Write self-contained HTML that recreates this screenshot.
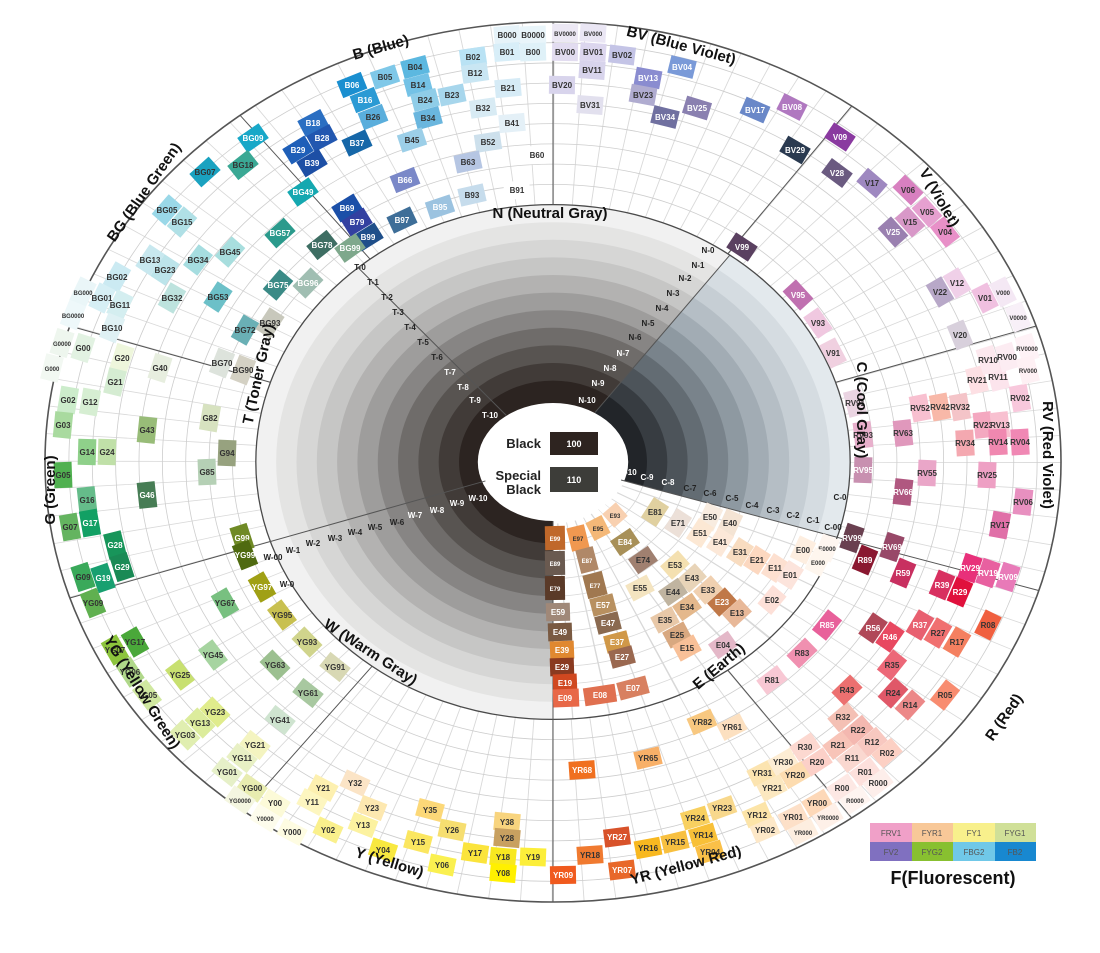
<!DOCTYPE html>
<html><head><meta charset="utf-8">
<style>
html,body{margin:0;padding:0;background:#fff;}
svg{display:block;}
.c text{font:bold 8px "Liberation Sans",sans-serif;text-anchor:middle;fill:#333;}
.c text.w{fill:#fff;}
.c text.s{font-size:6px;}
.g text{font:bold 8px "Liberation Sans",sans-serif;text-anchor:middle;fill:#222;}
.g text.w{fill:#fff;}
.h{font:bold 15px "Liberation Sans",sans-serif;text-anchor:middle;fill:#111;}
.lg text{font:8px "Liberation Sans",sans-serif;text-anchor:middle;fill:#555;}
</style></head><body>
<svg width="1100" height="953" viewBox="0 0 1100 953" xmlns="http://www.w3.org/2000/svg">
<rect width="1100" height="953" fill="#fff"/>
<g transform="translate(553,462) scale(508,440)">
 <defs>
  <clipPath id="cC"><path d="M0 0 L0.956 0.292 A1 1 0 0 0 0.595 -0.804 Z"/></clipPath>
  <clipPath id="cE"><path d="M0 0 L0 1 A1 1 0 0 0 0.956 0.292 Z"/></clipPath>
 </defs>
 <circle r="1" fill="#fff"/>
 <circle r="0.7925" fill="none" stroke="#d9d9d9" stroke-width="0.415" stroke-dasharray="0.0018 0.048"/>
 <g fill="none" stroke="#cdcdcd" stroke-width="0.8" vector-effect="non-scaling-stroke">
  <circle r="0.631" vector-effect="non-scaling-stroke"/><circle r="0.677" vector-effect="non-scaling-stroke"/><circle r="0.723" vector-effect="non-scaling-stroke"/><circle r="0.769" vector-effect="non-scaling-stroke"/><circle r="0.815" vector-effect="non-scaling-stroke"/><circle r="0.861" vector-effect="non-scaling-stroke"/><circle r="0.907" vector-effect="non-scaling-stroke"/><circle r="0.953" vector-effect="non-scaling-stroke"/>
 </g>
 <circle r="0.585" fill="#f1f1f1"/>
 <circle r="0.545" fill="#e4e4e3"/>
 <circle r="0.505" fill="#d6d6d5"/>
 <circle r="0.465" fill="#c6c6c5"/>
 <circle r="0.425" fill="#b3b2b1"/>
 <circle r="0.385" fill="#9e9d9c"/>
 <circle r="0.345" fill="#878584"/>
 <circle r="0.305" fill="#6f6c6a"/>
 <circle r="0.265" fill="#585451"/>
 <circle r="0.225" fill="#413b38"/>
 <circle r="0.185" fill="#2c2421"/>
 <g clip-path="url(#cC)">
  <circle r="0.585" fill="#e3e9ed"/>
  <circle r="0.545" fill="#d5dce1"/>
  <circle r="0.505" fill="#c6ced4"/>
  <circle r="0.465" fill="#b5bec5"/>
  <circle r="0.425" fill="#a2acb4"/>
  <circle r="0.385" fill="#8e99a1"/>
  <circle r="0.345" fill="#79838b"/>
  <circle r="0.305" fill="#636c73"/>
  <circle r="0.265" fill="#4d545a"/>
  <circle r="0.225" fill="#373c41"/>
  <circle r="0.185" fill="#222529"/>
 </g>
 <g clip-path="url(#cE)">
  <circle r="0.585" fill="#fff"/>
  <circle r="0.3625" fill="none" stroke="#d8d8d8" stroke-width="0.445" stroke-dasharray="0.0025 0.0428"/>
  <g fill="none" stroke="#d8d8d8" stroke-width="0.8">
   <circle r="0.185" vector-effect="non-scaling-stroke"/><circle r="0.225" vector-effect="non-scaling-stroke"/><circle r="0.265" vector-effect="non-scaling-stroke"/><circle r="0.305" vector-effect="non-scaling-stroke"/><circle r="0.345" vector-effect="non-scaling-stroke"/><circle r="0.385" vector-effect="non-scaling-stroke"/><circle r="0.425" vector-effect="non-scaling-stroke"/><circle r="0.465" vector-effect="non-scaling-stroke"/><circle r="0.505" vector-effect="non-scaling-stroke"/><circle r="0.545" vector-effect="non-scaling-stroke"/>
  </g>
 </g>
 <ellipse rx="0.148" ry="0.134" fill="#fff"/>
 <circle r="0.585" fill="none" stroke="#4a4a4a" stroke-width="1.3" vector-effect="non-scaling-stroke"/>
 <circle r="1" fill="none" stroke="#555" stroke-width="1.6" vector-effect="non-scaling-stroke"/>
 <g stroke="#555" stroke-width="1" vector-effect="non-scaling-stroke">
  <line x1="0.344" y1="-0.473" x2="0.588" y2="-0.809" vector-effect="non-scaling-stroke"/>
  <line x1="0" y1="-0.585" x2="0" y2="-1" vector-effect="non-scaling-stroke"/>
  <line x1="0.556" y1="-0.181" x2="0.951" y2="-0.309" vector-effect="non-scaling-stroke"/>
  <line x1="0.559" y1="0.171" x2="0.956" y2="0.292" vector-effect="non-scaling-stroke"/>
  <line x1="0.344" y1="0.473" x2="0.588" y2="0.809" vector-effect="non-scaling-stroke"/>
  <line x1="0" y1="0.134" x2="0" y2="1" vector-effect="non-scaling-stroke"/>
  <line x1="-0.356" y1="0.464" x2="-0.609" y2="0.793" vector-effect="non-scaling-stroke"/>
  <line x1="-0.133" y1="0.043" x2="-0.951" y2="0.309" vector-effect="non-scaling-stroke"/>
  <line x1="-0.556" y1="-0.181" x2="-0.951" y2="-0.309" vector-effect="non-scaling-stroke"/>
  <line x1="-0.360" y1="-0.461" x2="-0.616" y2="-0.788" vector-effect="non-scaling-stroke"/>
  <line x1="0.083" y1="-0.113" x2="0.348" y2="-0.470" vector-effect="non-scaling-stroke"/>
  <line x1="-0.092" y1="-0.106" x2="-0.384" y2="-0.442" vector-effect="non-scaling-stroke"/>
  <line x1="0.134" y1="0.041" x2="0.559" y2="0.171" vector-effect="non-scaling-stroke"/>
 </g>
</g>

<!-- center -->
<text x="541" y="448" style="font:bold 13px 'Liberation Sans',sans-serif;text-anchor:end;fill:#222">Black</text>
<rect x="550" y="432" width="48" height="23" fill="#2e2420"/>
<text x="574" y="447" style="font:bold 9px 'Liberation Sans',sans-serif;text-anchor:middle;fill:#fff">100</text>
<text x="541" y="480" style="font:bold 13px 'Liberation Sans',sans-serif;text-anchor:end;fill:#222">Special</text>
<text x="541" y="494" style="font:bold 13px 'Liberation Sans',sans-serif;text-anchor:end;fill:#222">Black</text>
<rect x="550" y="467" width="48" height="25" fill="#3d3d39"/>
<text x="574" y="483" style="font:bold 9px 'Liberation Sans',sans-serif;text-anchor:middle;fill:#fff">110</text>

<!-- gray labels -->
<g class="g">
<text x="708" y="253">N-0</text><text x="698" y="268">N-1</text><text x="685" y="281">N-2</text><text x="673" y="296">N-3</text><text x="662" y="311">N-4</text><text x="648" y="326">N-5</text><text x="635" y="340">N-6</text><text x="623" y="356" class="w">N-7</text><text x="610" y="371" class="w">N-8</text><text x="598" y="386" class="w">N-9</text><text x="587" y="403" class="w">N-10</text>
<text x="360" y="270">T-0</text><text x="373" y="285">T-1</text><text x="387" y="300">T-2</text><text x="398" y="315">T-3</text><text x="410" y="330">T-4</text><text x="423" y="345">T-5</text><text x="437" y="360">T-6</text><text x="450" y="375" class="w">T-7</text><text x="463" y="390" class="w">T-8</text><text x="475" y="403" class="w">T-9</text><text x="490" y="418" class="w">T-10</text>
<text x="478" y="501" class="w">W-10</text><text x="457" y="506" class="w">W-9</text><text x="437" y="513" class="w">W-8</text><text x="415" y="518" class="w">W-7</text><text x="397" y="525">W-6</text><text x="375" y="530">W-5</text><text x="355" y="535">W-4</text><text x="335" y="541">W-3</text><text x="313" y="546">W-2</text><text x="293" y="553">W-1</text><text x="273" y="560">W-00</text><text x="287" y="587">W-0</text>
<text x="628" y="475" class="w">C-10</text><text x="647" y="480" class="w">C-9</text><text x="668" y="485" class="w">C-8</text><text x="690" y="491">C-7</text><text x="710" y="496">C-6</text><text x="732" y="501">C-5</text><text x="752" y="508">C-4</text><text x="773" y="513">C-3</text><text x="793" y="518">C-2</text><text x="813" y="523">C-1</text><text x="840" y="500">C-0</text><text x="833" y="530">C-00</text>
</g>

<g class="c" id="cells">
<!-- B -->
<g transform="translate(507 35)"><rect x="-13" y="-9" width="26" height="18" fill="#e6f3f9"/><text y="3">B000</text></g>
<g transform="translate(533 35)"><rect x="-13" y="-9" width="26" height="18" fill="#e9f5fa"/><text y="3">B0000</text></g>
<g transform="translate(507 52)"><rect x="-13" y="-9" width="26" height="18" fill="#d8eef8"/><text y="3">B01</text></g>
<g transform="translate(533 52)"><rect x="-13" y="-9" width="26" height="18" fill="#dff1f8"/><text y="3">B00</text></g>
<g transform="translate(473 57)"><rect x="-13" y="-9" width="26" height="18" fill="#b9e2f4"/><text y="3">B02</text></g>
<g transform="translate(475 73)"><rect x="-13" y="-9" width="26" height="18" fill="#c9e6f3"/><text y="3">B12</text></g>
<g transform="translate(415 67)"><rect x="-13" y="-9" width="26" height="18" fill="#5cb8e0"/><text y="3">B04</text></g>
<g transform="translate(385 77)"><rect x="-13" y="-9" width="26" height="18" fill="#7fc8e8"/><text y="3">B05</text></g>
<g transform="translate(352 85)"><rect x="-13" y="-9" width="26" height="18" fill="#1a8fd0"/><text y="3" class="w">B06</text></g>
<g transform="translate(418 85)"><rect x="-13" y="-9" width="26" height="18" fill="#74c2e6"/><text y="3">B14</text></g>
<g transform="translate(365 100)"><rect x="-13" y="-9" width="26" height="18" fill="#2b9ad4"/><text y="3" class="w">B16</text></g>
<g transform="translate(373 117)"><rect x="-13" y="-9" width="26" height="18" fill="#5aaedc"/><text y="3">B26</text></g>
<g transform="translate(425 100)"><rect x="-13" y="-9" width="26" height="18" fill="#8fcde8"/><text y="3">B24</text></g>
<g transform="translate(428 118)"><rect x="-13" y="-9" width="26" height="18" fill="#6ab6de"/><text y="3">B34</text></g>
<g transform="translate(452 95)"><rect x="-13" y="-9" width="26" height="18" fill="#a7d6ec"/><text y="3">B23</text></g>
<g transform="translate(508 88)"><rect x="-13" y="-9" width="26" height="18" fill="#d6ebf6"/><text y="3">B21</text></g>
<g transform="translate(483 108)"><rect x="-13" y="-9" width="26" height="18" fill="#d8ebf4"/><text y="3">B32</text></g>
<g transform="translate(512 123)"><rect x="-13" y="-9" width="26" height="18" fill="#e4f0f7"/><text y="3">B41</text></g>
<g transform="translate(313 123)"><rect x="-13" y="-9" width="26" height="18" fill="#2b6fc2"/><text y="3" class="w">B18</text></g>
<g transform="translate(322 138)"><rect x="-13" y="-9" width="26" height="18" fill="#2257b0"/><text y="3" class="w">B28</text></g>
<g transform="translate(298 150)"><rect x="-13" y="-9" width="26" height="18" fill="#1f5fb8"/><text y="3" class="w">B29</text></g>
<g transform="translate(312 163)"><rect x="-13" y="-9" width="26" height="18" fill="#1d4fa5"/><text y="3" class="w">B39</text></g>
<g transform="translate(357 143)"><rect x="-13" y="-9" width="26" height="18" fill="#1667a8"/><text y="3" class="w">B37</text></g>
<g transform="translate(412 140)"><rect x="-13" y="-9" width="26" height="18" fill="#9ccfe8"/><text y="3">B45</text></g>
<g transform="translate(488 142)"><rect x="-13" y="-9" width="26" height="18" fill="#cde0ec"/><text y="3">B52</text></g>
<g transform="translate(468 162)"><rect x="-13" y="-9" width="26" height="18" fill="#b6c6e3"/><text y="3">B63</text></g>
<g transform="translate(537 155)"><rect x="-13" y="-9" width="26" height="18" fill="#fff"/><text y="3">B60</text></g>
<g transform="translate(405 180)"><rect x="-13" y="-9" width="26" height="18" fill="#7a88c8"/><text y="3" class="w">B66</text></g>
<g transform="translate(472 195)"><rect x="-13" y="-9" width="26" height="18" fill="#c6dcec"/><text y="3">B93</text></g>
<g transform="translate(517 190)"><rect x="-13" y="-9" width="26" height="18" fill="#fff"/><text y="3">B91</text></g>
<g transform="translate(440 207)"><rect x="-13" y="-9" width="26" height="18" fill="#9cc3e0"/><text y="3" class="w">B95</text></g>
<g transform="translate(402 220)"><rect x="-13" y="-9" width="26" height="18" fill="#3e6e98"/><text y="3" class="w">B97</text></g>
<g transform="translate(347 208)"><rect x="-13" y="-9" width="26" height="18" fill="#1b4fa8"/><text y="3" class="w">B69</text></g>
<g transform="translate(357 222)"><rect x="-13" y="-9" width="26" height="18" fill="#3340a0"/><text y="3" class="w">B79</text></g>
<g transform="translate(368 237)"><rect x="-13" y="-9" width="26" height="18" fill="#1f4f8a"/><text y="3" class="w">B99</text></g>
<!-- BG -->
<g transform="translate(253 138)"><rect x="-13" y="-9" width="26" height="18" fill="#18a8c8"/><text y="3" class="w">BG09</text></g>
<g transform="translate(205 172)"><rect x="-13" y="-9" width="26" height="18" fill="#1aa2c0"/><text y="3">BG07</text></g>
<g transform="translate(243 165)"><rect x="-13" y="-9" width="26" height="18" fill="#3aa894"/><text y="3">BG18</text></g>
<g transform="translate(303 192)"><rect x="-13" y="-9" width="26" height="18" fill="#15a8b0"/><text y="3" class="w">BG49</text></g>
<g transform="translate(167 210)"><rect x="-13" y="-9" width="26" height="18" fill="#9ad8e8"/><text y="3">BG05</text></g>
<g transform="translate(182 222)"><rect x="-13" y="-9" width="26" height="18" fill="#b0e0e6"/><text y="3">BG15</text></g>
<g transform="translate(280 233)"><rect x="-13" y="-9" width="26" height="18" fill="#2b9a8c"/><text y="3" class="w">BG57</text></g>
<g transform="translate(322 245)"><rect x="-13" y="-9" width="26" height="18" fill="#3e6e63"/><text y="3" class="w">BG78</text></g>
<g transform="translate(350 248)"><rect x="-13" y="-9" width="26" height="18" fill="#7ea88c"/><text y="3" class="w">BG99</text></g>
<g transform="translate(150 260)"><rect x="-13" y="-9" width="26" height="18" fill="#c8e8ef"/><text y="3">BG13</text></g>
<g transform="translate(165 270)"><rect x="-13" y="-9" width="26" height="18" fill="#bce4ea"/><text y="3">BG23</text></g>
<g transform="translate(198 260)"><rect x="-13" y="-9" width="26" height="18" fill="#a6dde0"/><text y="3">BG34</text></g>
<g transform="translate(230 252)"><rect x="-13" y="-9" width="26" height="18" fill="#a8dede"/><text y="3">BG45</text></g>
<g transform="translate(117 277)"><rect x="-13" y="-9" width="26" height="18" fill="#cbeaf2"/><text y="3">BG02</text></g>
<g transform="translate(278 285)"><rect x="-13" y="-9" width="26" height="18" fill="#3a8a86"/><text y="3" class="w">BG75</text></g>
<g transform="translate(308 283)"><rect x="-13" y="-9" width="26" height="18" fill="#a0beb2"/><text y="3" class="w">BG96</text></g>
<g transform="translate(83 292)"><rect x="-13" y="-9" width="26" height="18" fill="#eaf6f8"/><text y="3" class="s">BG000</text></g>
<g transform="translate(102 298)"><rect x="-13" y="-9" width="26" height="18" fill="#d6eff5"/><text y="3">BG01</text></g>
<g transform="translate(120 305)"><rect x="-13" y="-9" width="26" height="18" fill="#d4eef0"/><text y="3">BG11</text></g>
<g transform="translate(172 298)"><rect x="-13" y="-9" width="26" height="18" fill="#bde3de"/><text y="3">BG32</text></g>
<g transform="translate(218 297)"><rect x="-13" y="-9" width="26" height="18" fill="#6cc0c8"/><text y="3">BG53</text></g>
<g transform="translate(73 315)"><rect x="-13" y="-9" width="26" height="18" fill="#eef8fa"/><text y="3" class="s">BG0000</text></g>
<g transform="translate(112 328)"><rect x="-13" y="-9" width="26" height="18" fill="#dff1f4"/><text y="3">BG10</text></g>
<g transform="translate(245 330)"><rect x="-13" y="-9" width="26" height="18" fill="#6ab0b5"/><text y="3">BG72</text></g>
<g transform="translate(270 323)"><rect x="-13" y="-9" width="26" height="18" fill="#c8c8bc"/><text y="3">BG93</text></g>
<!-- G -->
<g transform="translate(62 343)"><rect x="-13" y="-9" width="26" height="18" fill="#eef6ee"/><text y="3" class="s">G0000</text></g>
<g transform="translate(83 348)"><rect x="-13" y="-9" width="26" height="18" fill="#e2f2e2"/><text y="3">G00</text></g>
<g transform="translate(122 358)"><rect x="-13" y="-9" width="26" height="18" fill="#eef6dc"/><text y="3">G20</text></g>
<g transform="translate(160 368)"><rect x="-13" y="-9" width="26" height="18" fill="#e7eedf"/><text y="3">G40</text></g>
<g transform="translate(222 363)"><rect x="-13" y="-9" width="26" height="18" fill="#dde3dc"/><text y="3">BG70</text></g>
<g transform="translate(243 370)"><rect x="-13" y="-9" width="26" height="18" fill="#d4d1c4"/><text y="3">BG90</text></g>
<g transform="translate(52 368)"><rect x="-13" y="-9" width="26" height="18" fill="#f2f8f2"/><text y="3" class="s">G000</text></g>
<g transform="translate(115 382)"><rect x="-13" y="-9" width="26" height="18" fill="#d5ecd2"/><text y="3">G21</text></g>
<g transform="translate(68 400)"><rect x="-13" y="-9" width="26" height="18" fill="#cceccb"/><text y="3">G02</text></g>
<g transform="translate(90 402)"><rect x="-13" y="-9" width="26" height="18" fill="#d6eed2"/><text y="3">G12</text></g>
<g transform="translate(210 418)"><rect x="-13" y="-9" width="26" height="18" fill="#d7e2c0"/><text y="3">G82</text></g>
<g transform="translate(63 425)"><rect x="-13" y="-9" width="26" height="18" fill="#a9da9f"/><text y="3">G03</text></g>
<g transform="translate(147 430)"><rect x="-13" y="-9" width="26" height="18" fill="#98bc78"/><text y="3">G43</text></g>
<g transform="translate(87 452)"><rect x="-13" y="-9" width="26" height="18" fill="#8fd08a"/><text y="3">G14</text></g>
<g transform="translate(107 452)"><rect x="-13" y="-9" width="26" height="18" fill="#c0e0a8"/><text y="3">G24</text></g>
<g transform="translate(227 453)"><rect x="-13" y="-9" width="26" height="18" fill="#97a27f"/><text y="3">G94</text></g>
<g transform="translate(207 472)"><rect x="-13" y="-9" width="26" height="18" fill="#b5d0b5"/><text y="3">G85</text></g>
<g transform="translate(63 475)"><rect x="-13" y="-9" width="26" height="18" fill="#50b050"/><text y="3">G05</text></g>
<g transform="translate(87 500)"><rect x="-13" y="-9" width="26" height="18" fill="#65bc8a"/><text y="3">G16</text></g>
<g transform="translate(147 495)"><rect x="-13" y="-9" width="26" height="18" fill="#477d55"/><text y="3" class="w">G46</text></g>
<g transform="translate(70 527)"><rect x="-13" y="-9" width="26" height="18" fill="#64b460"/><text y="3">G07</text></g>
<g transform="translate(90 523)"><rect x="-13" y="-9" width="26" height="18" fill="#12a064"/><text y="3" class="w">G17</text></g>
<g transform="translate(115 545)"><rect x="-13" y="-9" width="26" height="18" fill="#18955a"/><text y="3" class="w">G28</text></g>
<g transform="translate(242 538)"><rect x="-13" y="-9" width="26" height="18" fill="#6f8a25"/><text y="3" class="w">G99</text></g>
<g transform="translate(83 577)"><rect x="-13" y="-9" width="26" height="18" fill="#3aa95a"/><text y="3">G09</text></g>
<g transform="translate(103 578)"><rect x="-13" y="-9" width="26" height="18" fill="#18a070"/><text y="3" class="w">G19</text></g>
<g transform="translate(122 567)"><rect x="-13" y="-9" width="26" height="18" fill="#1a8a55"/><text y="3" class="w">G29</text></g>
<!-- YG -->
<g transform="translate(245 555)"><rect x="-13" y="-9" width="26" height="18" fill="#4f6a10"/><text y="3" class="w">YG99</text></g>
<g transform="translate(262 587)"><rect x="-13" y="-9" width="26" height="18" fill="#a0a015"/><text y="3" class="w">YG97</text></g>
<g transform="translate(93 603)"><rect x="-13" y="-9" width="26" height="18" fill="#60b050"/><text y="3">YG09</text></g>
<g transform="translate(225 603)"><rect x="-13" y="-9" width="26" height="18" fill="#78c080"/><text y="3">YG67</text></g>
<g transform="translate(282 615)"><rect x="-13" y="-9" width="26" height="18" fill="#c8c050"/><text y="3">YG95</text></g>
<g transform="translate(135 642)"><rect x="-13" y="-9" width="26" height="18" fill="#4aa83a"/><text y="3">YG17</text></g>
<g transform="translate(115 650)"><rect x="-13" y="-9" width="26" height="18" fill="#8cc43c"/><text y="3">YG07</text></g>
<g transform="translate(213 655)"><rect x="-13" y="-9" width="26" height="18" fill="#a6d4a0"/><text y="3">YG45</text></g>
<g transform="translate(307 642)"><rect x="-13" y="-9" width="26" height="18" fill="#d0d48c"/><text y="3">YG93</text></g>
<g transform="translate(130 672)"><rect x="-13" y="-9" width="26" height="18" fill="#b0d88a"/><text y="3">YG06</text></g>
<g transform="translate(180 675)"><rect x="-13" y="-9" width="26" height="18" fill="#c8e070"/><text y="3">YG25</text></g>
<g transform="translate(275 665)"><rect x="-13" y="-9" width="26" height="18" fill="#9cc090"/><text y="3">YG63</text></g>
<g transform="translate(335 667)"><rect x="-13" y="-9" width="26" height="18" fill="#d8d8b4"/><text y="3">YG91</text></g>
<g transform="translate(147 695)"><rect x="-13" y="-9" width="26" height="18" fill="#d0e8a0"/><text y="3">YG05</text></g>
<g transform="translate(308 693)"><rect x="-13" y="-9" width="26" height="18" fill="#a8c8a0"/><text y="3">YG61</text></g>
<g transform="translate(215 712)"><rect x="-13" y="-9" width="26" height="18" fill="#e0ec8c"/><text y="3">YG23</text></g>
<g transform="translate(200 723)"><rect x="-13" y="-9" width="26" height="18" fill="#dcec9c"/><text y="3">YG13</text></g>
<g transform="translate(185 735)"><rect x="-13" y="-9" width="26" height="18" fill="#e0eeb0"/><text y="3">YG03</text></g>
<g transform="translate(280 720)"><rect x="-13" y="-9" width="26" height="18" fill="#cfe4d0"/><text y="3">YG41</text></g>
<g transform="translate(255 745)"><rect x="-13" y="-9" width="26" height="18" fill="#f4f4c0"/><text y="3">YG21</text></g>
<g transform="translate(242 758)"><rect x="-13" y="-9" width="26" height="18" fill="#e8f0c4"/><text y="3">YG11</text></g>
<g transform="translate(227 772)"><rect x="-13" y="-9" width="26" height="18" fill="#e6f0c8"/><text y="3">YG01</text></g>
<g transform="translate(252 788)"><rect x="-13" y="-9" width="26" height="18" fill="#e8ecb0"/><text y="3">YG00</text></g>
<g transform="translate(240 800)"><rect x="-13" y="-9" width="26" height="18" fill="#f4f6e0"/><text y="3" class="s">YG0000</text></g>
<!-- Y -->
<g transform="translate(275 803)"><rect x="-13" y="-9" width="26" height="18" fill="#fcfad8"/><text y="3">Y00</text></g>
<g transform="translate(265 818)"><rect x="-13" y="-9" width="26" height="18" fill="#fdfcec"/><text y="3" class="s">Y0000</text></g>
<g transform="translate(292 832)"><rect x="-13" y="-9" width="26" height="18" fill="#fefce2"/><text y="3">Y000</text></g>
<g transform="translate(323 788)"><rect x="-13" y="-9" width="26" height="18" fill="#fdf0b0"/><text y="3">Y21</text></g>
<g transform="translate(355 783)"><rect x="-13" y="-9" width="26" height="18" fill="#fbe4c6"/><text y="3">Y32</text></g>
<g transform="translate(312 802)"><rect x="-13" y="-9" width="26" height="18" fill="#fdf6c0"/><text y="3">Y11</text></g>
<g transform="translate(372 808)"><rect x="-13" y="-9" width="26" height="18" fill="#fde8b0"/><text y="3">Y23</text></g>
<g transform="translate(328 830)"><rect x="-13" y="-9" width="26" height="18" fill="#faf08c"/><text y="3">Y02</text></g>
<g transform="translate(363 825)"><rect x="-13" y="-9" width="26" height="18" fill="#fcf2a0"/><text y="3">Y13</text></g>
<g transform="translate(430 810)"><rect x="-13" y="-9" width="26" height="18" fill="#fcd878"/><text y="3">Y35</text></g>
<g transform="translate(383 850)"><rect x="-13" y="-9" width="26" height="18" fill="#f8e840"/><text y="3">Y04</text></g>
<g transform="translate(452 830)"><rect x="-13" y="-9" width="26" height="18" fill="#f6de70"/><text y="3">Y26</text></g>
<g transform="translate(418 842)"><rect x="-13" y="-9" width="26" height="18" fill="#fbe660"/><text y="3">Y15</text></g>
<g transform="translate(507 822)"><rect x="-13" y="-9" width="26" height="18" fill="#f8d47e"/><text y="3">Y38</text></g>
<g transform="translate(507 838)"><rect x="-13" y="-9" width="26" height="18" fill="#c8a060"/><text y="3">Y28</text></g>
<g transform="translate(442 865)"><rect x="-13" y="-9" width="26" height="18" fill="#faf050"/><text y="3">Y06</text></g>
<g transform="translate(475 853)"><rect x="-13" y="-9" width="26" height="18" fill="#fbe43c"/><text y="3">Y17</text></g>
<g transform="translate(503 857)"><rect x="-13" y="-9" width="26" height="18" fill="#f8e820"/><text y="3">Y18</text></g>
<g transform="translate(533 857)"><rect x="-13" y="-9" width="26" height="18" fill="#fcee3a"/><text y="3">Y19</text></g>
<g transform="translate(503 873)"><rect x="-13" y="-9" width="26" height="18" fill="#fff000"/><text y="3">Y08</text></g>
<!-- YR -->
<g transform="translate(563 875)"><rect x="-13" y="-9" width="26" height="18" fill="#f05a1e"/><text y="3" class="w">YR09</text></g>
<g transform="translate(590 855)"><rect x="-13" y="-9" width="26" height="18" fill="#f07a30"/><text y="3">YR18</text></g>
<g transform="translate(622 870)"><rect x="-13" y="-9" width="26" height="18" fill="#e8682a"/><text y="3" class="w">YR07</text></g>
<g transform="translate(617 837)"><rect x="-13" y="-9" width="26" height="18" fill="#d8522a"/><text y="3" class="w">YR27</text></g>
<g transform="translate(648 848)"><rect x="-13" y="-9" width="26" height="18" fill="#f8b820"/><text y="3">YR16</text></g>
<g transform="translate(675 842)"><rect x="-13" y="-9" width="26" height="18" fill="#f8c040"/><text y="3">YR15</text></g>
<g transform="translate(695 818)"><rect x="-13" y="-9" width="26" height="18" fill="#f8d060"/><text y="3">YR24</text></g>
<g transform="translate(703 835)"><rect x="-13" y="-9" width="26" height="18" fill="#f8c038"/><text y="3">YR14</text></g>
<g transform="translate(710 852)"><rect x="-13" y="-9" width="26" height="18" fill="#fac048"/><text y="3">YR04</text></g>
<g transform="translate(722 808)"><rect x="-13" y="-9" width="26" height="18" fill="#f8d88c"/><text y="3">YR23</text></g>
<g transform="translate(757 815)"><rect x="-13" y="-9" width="26" height="18" fill="#fce4a8"/><text y="3">YR12</text></g>
<g transform="translate(765 830)"><rect x="-13" y="-9" width="26" height="18" fill="#fde8c8"/><text y="3">YR02</text></g>
<g transform="translate(793 817)"><rect x="-13" y="-9" width="26" height="18" fill="#fde0c8"/><text y="3">YR01</text></g>
<g transform="translate(803 832)"><rect x="-13" y="-9" width="26" height="18" fill="#fdeee0"/><text y="3" class="s">YR000</text></g>
<g transform="translate(817 803)"><rect x="-13" y="-9" width="26" height="18" fill="#fdd8b8"/><text y="3">YR00</text></g>
<g transform="translate(828 817)"><rect x="-13" y="-9" width="26" height="18" fill="#fef0e8"/><text y="3" class="s">YR0000</text></g>
<g transform="translate(762 773)"><rect x="-13" y="-9" width="26" height="18" fill="#fce4b0"/><text y="3">YR31</text></g>
<g transform="translate(783 762)"><rect x="-13" y="-9" width="26" height="18" fill="#fdedd4"/><text y="3">YR30</text></g>
<g transform="translate(795 775)"><rect x="-13" y="-9" width="26" height="18" fill="#fddcb0"/><text y="3">YR20</text></g>
<g transform="translate(772 788)"><rect x="-13" y="-9" width="26" height="18" fill="#fce8c0"/><text y="3">YR21</text></g>
<g transform="translate(582 770)"><rect x="-13" y="-9" width="26" height="18" fill="#f07020"/><text y="3" class="w">YR68</text></g>
<g transform="translate(648 758)"><rect x="-13" y="-9" width="26" height="18" fill="#f8b068"/><text y="3">YR65</text></g>
<g transform="translate(702 722)"><rect x="-13" y="-9" width="26" height="18" fill="#f8c880"/><text y="3">YR82</text></g>
<g transform="translate(732 727)"><rect x="-13" y="-9" width="26" height="18" fill="#fce0c0"/><text y="3">YR61</text></g>
<!-- R -->
<g transform="translate(805 747)"><rect x="-13" y="-9" width="26" height="18" fill="#fcd8d0"/><text y="3">R30</text></g>
<g transform="translate(817 762)"><rect x="-13" y="-9" width="26" height="18" fill="#fcd0c8"/><text y="3">R20</text></g>
<g transform="translate(838 745)"><rect x="-13" y="-9" width="26" height="18" fill="#f8c4b8"/><text y="3">R21</text></g>
<g transform="translate(843 717)"><rect x="-13" y="-9" width="26" height="18" fill="#f4c0b4"/><text y="3">R32</text></g>
<g transform="translate(858 730)"><rect x="-13" y="-9" width="26" height="18" fill="#f4b8b0"/><text y="3">R22</text></g>
<g transform="translate(872 742)"><rect x="-13" y="-9" width="26" height="18" fill="#f8c8c0"/><text y="3">R12</text></g>
<g transform="translate(887 753)"><rect x="-13" y="-9" width="26" height="18" fill="#fcd0c4"/><text y="3">R02</text></g>
<g transform="translate(852 758)"><rect x="-13" y="-9" width="26" height="18" fill="#fad8d0"/><text y="3">R11</text></g>
<g transform="translate(865 772)"><rect x="-13" y="-9" width="26" height="18" fill="#fde0dc"/><text y="3">R01</text></g>
<g transform="translate(842 788)"><rect x="-13" y="-9" width="26" height="18" fill="#fde8e4"/><text y="3">R00</text></g>
<g transform="translate(878 783)"><rect x="-13" y="-9" width="26" height="18" fill="#fdeeea"/><text y="3">R000</text></g>
<g transform="translate(855 800)"><rect x="-13" y="-9" width="26" height="18" fill="#fef4f0"/><text y="3" class="s">R0000</text></g>
<g transform="translate(847 690)"><rect x="-13" y="-9" width="26" height="18" fill="#ec7070"/><text y="3">R43</text></g>
<g transform="translate(893 693)"><rect x="-13" y="-9" width="26" height="18" fill="#e05868"/><text y="3">R24</text></g>
<g transform="translate(910 705)"><rect x="-13" y="-9" width="26" height="18" fill="#ec8888"/><text y="3">R14</text></g>
<g transform="translate(945 695)"><rect x="-13" y="-9" width="26" height="18" fill="#f88c70"/><text y="3">R05</text></g>
<g transform="translate(892 665)"><rect x="-13" y="-9" width="26" height="18" fill="#ec6878"/><text y="3">R35</text></g>
<g transform="translate(772 680)"><rect x="-13" y="-9" width="26" height="18" fill="#f8c8d4"/><text y="3">R81</text></g>
<g transform="translate(802 653)"><rect x="-13" y="-9" width="26" height="18" fill="#f090b0"/><text y="3">R83</text></g>
<g transform="translate(827 625)"><rect x="-13" y="-9" width="26" height="18" fill="#e8609a"/><text y="3" class="w">R85</text></g>
<g transform="translate(873 628)"><rect x="-13" y="-9" width="26" height="18" fill="#b04858"/><text y="3" class="w">R56</text></g>
<g transform="translate(890 637)"><rect x="-13" y="-9" width="26" height="18" fill="#e84860"/><text y="3" class="w">R46</text></g>
<g transform="translate(920 625)"><rect x="-13" y="-9" width="26" height="18" fill="#e86070"/><text y="3" class="w">R37</text></g>
<g transform="translate(938 633)"><rect x="-13" y="-9" width="26" height="18" fill="#f07070"/><text y="3">R27</text></g>
<g transform="translate(957 642)"><rect x="-13" y="-9" width="26" height="18" fill="#f48060"/><text y="3">R17</text></g>
<g transform="translate(988 625)"><rect x="-13" y="-9" width="26" height="18" fill="#f06040"/><text y="3">R08</text></g>
<g transform="translate(865 560)"><rect x="-13" y="-9" width="26" height="18" fill="#8a1830"/><text y="3" class="w">R89</text></g>
<g transform="translate(903 573)"><rect x="-13" y="-9" width="26" height="18" fill="#c83060"/><text y="3" class="w">R59</text></g>
<g transform="translate(942 585)"><rect x="-13" y="-9" width="26" height="18" fill="#d83060"/><text y="3" class="w">R39</text></g>
<g transform="translate(960 592)"><rect x="-13" y="-9" width="26" height="18" fill="#e0103c"/><text y="3" class="w">R29</text></g>
<!-- RV -->
<g transform="translate(852 538)"><rect x="-13" y="-9" width="26" height="18" fill="#6a4050"/><text y="3" class="w">RV99</text></g>
<g transform="translate(892 547)"><rect x="-13" y="-9" width="26" height="18" fill="#984868"/><text y="3" class="w">RV69</text></g>
<g transform="translate(970 568)"><rect x="-13" y="-9" width="26" height="18" fill="#e8307a"/><text y="3" class="w">RV29</text></g>
<g transform="translate(988 573)"><rect x="-13" y="-9" width="26" height="18" fill="#e860a0"/><text y="3" class="w">RV19</text></g>
<g transform="translate(1008 577)"><rect x="-13" y="-9" width="26" height="18" fill="#e87ab8"/><text y="3" class="w">RV09</text></g>
<g transform="translate(863 470)"><rect x="-13" y="-9" width="26" height="18" fill="#c890b0"/><text y="3" class="w">RV95</text></g>
<g transform="translate(927 473)"><rect x="-13" y="-9" width="26" height="18" fill="#eaa6c8"/><text y="3">RV55</text></g>
<g transform="translate(903 492)"><rect x="-13" y="-9" width="26" height="18" fill="#b05880"/><text y="3" class="w">RV66</text></g>
<g transform="translate(987 475)"><rect x="-13" y="-9" width="26" height="18" fill="#eea0c4"/><text y="3">RV25</text></g>
<g transform="translate(1023 502)"><rect x="-13" y="-9" width="26" height="18" fill="#e890c0"/><text y="3">RV06</text></g>
<g transform="translate(1000 525)"><rect x="-13" y="-9" width="26" height="18" fill="#e070a8"/><text y="3">RV17</text></g>
<g transform="translate(855 403)"><rect x="-13" y="-9" width="26" height="18" fill="#ead4e2"/><text y="3">RV91</text></g>
<g transform="translate(863 435)"><rect x="-13" y="-9" width="26" height="18" fill="#e8b0cc"/><text y="3">RV93</text></g>
<g transform="translate(903 433)"><rect x="-13" y="-9" width="26" height="18" fill="#e098bc"/><text y="3">RV63</text></g>
<g transform="translate(920 408)"><rect x="-13" y="-9" width="26" height="18" fill="#f8c0d0"/><text y="3">RV52</text></g>
<g transform="translate(940 407)"><rect x="-13" y="-9" width="26" height="18" fill="#f8b8a8"/><text y="3">RV42</text></g>
<g transform="translate(960 407)"><rect x="-13" y="-9" width="26" height="18" fill="#f4c4c8"/><text y="3">RV32</text></g>
<g transform="translate(983 425)"><rect x="-13" y="-9" width="26" height="18" fill="#f4a8c0"/><text y="3">RV23</text></g>
<g transform="translate(1000 425)"><rect x="-13" y="-9" width="26" height="18" fill="#f8c0d0"/><text y="3">RV13</text></g>
<g transform="translate(965 443)"><rect x="-13" y="-9" width="26" height="18" fill="#f4a8b0"/><text y="3">RV34</text></g>
<g transform="translate(998 442)"><rect x="-13" y="-9" width="26" height="18" fill="#f088b0"/><text y="3">RV14</text></g>
<g transform="translate(1020 442)"><rect x="-13" y="-9" width="26" height="18" fill="#f088b4"/><text y="3">RV04</text></g>
<g transform="translate(977 380)"><rect x="-13" y="-9" width="26" height="18" fill="#fde0e4"/><text y="3">RV21</text></g>
<g transform="translate(998 377)"><rect x="-13" y="-9" width="26" height="18" fill="#fce4ec"/><text y="3">RV11</text></g>
<g transform="translate(1020 398)"><rect x="-13" y="-9" width="26" height="18" fill="#f8c8dc"/><text y="3">RV02</text></g>
<g transform="translate(988 360)"><rect x="-13" y="-9" width="26" height="18" fill="#fce8ee"/><text y="3">RV10</text></g>
<g transform="translate(1007 357)"><rect x="-13" y="-9" width="26" height="18" fill="#fcecf2"/><text y="3">RV00</text></g>
<g transform="translate(1027 348)"><rect x="-13" y="-9" width="26" height="18" fill="#fef2f6"/><text y="3" class="s">RV0000</text></g>
<g transform="translate(1028 370)"><rect x="-13" y="-9" width="26" height="18" fill="#fef0f4"/><text y="3" class="s">RV000</text></g>
<!-- V -->
<g transform="translate(840 137)"><rect x="-13" y="-9" width="26" height="18" fill="#8a3aa0"/><text y="3" class="w">V09</text></g>
<g transform="translate(837 173)"><rect x="-13" y="-9" width="26" height="18" fill="#6a5a80"/><text y="3" class="w">V28</text></g>
<g transform="translate(872 183)"><rect x="-13" y="-9" width="26" height="18" fill="#9e88c0"/><text y="3">V17</text></g>
<g transform="translate(908 190)"><rect x="-13" y="-9" width="26" height="18" fill="#d880c0"/><text y="3">V06</text></g>
<g transform="translate(927 212)"><rect x="-13" y="-9" width="26" height="18" fill="#e6a0d0"/><text y="3">V05</text></g>
<g transform="translate(910 222)"><rect x="-13" y="-9" width="26" height="18" fill="#d898c8"/><text y="3">V15</text></g>
<g transform="translate(893 232)"><rect x="-13" y="-9" width="26" height="18" fill="#9a80b0"/><text y="3" class="w">V25</text></g>
<g transform="translate(945 232)"><rect x="-13" y="-9" width="26" height="18" fill="#e890c8"/><text y="3">V04</text></g>
<g transform="translate(742 247)"><rect x="-13" y="-9" width="26" height="18" fill="#5a4060"/><text y="3" class="w">V99</text></g>
<g transform="translate(798 295)"><rect x="-13" y="-9" width="26" height="18" fill="#c070b0"/><text y="3" class="w">V95</text></g>
<g transform="translate(818 323)"><rect x="-13" y="-9" width="26" height="18" fill="#f0c8e0"/><text y="3">V93</text></g>
<g transform="translate(833 353)"><rect x="-13" y="-9" width="26" height="18" fill="#f0d0e0"/><text y="3">V91</text></g>
<g transform="translate(940 292)"><rect x="-13" y="-9" width="26" height="18" fill="#b8a8c8"/><text y="3">V22</text></g>
<g transform="translate(957 283)"><rect x="-13" y="-9" width="26" height="18" fill="#f0d0e8"/><text y="3">V12</text></g>
<g transform="translate(985 298)"><rect x="-13" y="-9" width="26" height="18" fill="#f0c0e0"/><text y="3">V01</text></g>
<g transform="translate(1003 292)"><rect x="-13" y="-9" width="26" height="18" fill="#f4e8f4"/><text y="3" class="s">V000</text></g>
<g transform="translate(1018 317)"><rect x="-13" y="-9" width="26" height="18" fill="#f8f0f8"/><text y="3" class="s">V0000</text></g>
<g transform="translate(960 335)"><rect x="-13" y="-9" width="26" height="18" fill="#d8d0dc"/><text y="3">V20</text></g>
<!-- BV -->
<g transform="translate(565 33)"><rect x="-13" y="-9" width="26" height="18" fill="#ece8f4"/><text y="3" class="s">BV0000</text></g>
<g transform="translate(593 33)"><rect x="-13" y="-9" width="26" height="18" fill="#eae6f4"/><text y="3" class="s">BV000</text></g>
<g transform="translate(565 52)"><rect x="-13" y="-9" width="26" height="18" fill="#e2dcf0"/><text y="3">BV00</text></g>
<g transform="translate(593 52)"><rect x="-13" y="-9" width="26" height="18" fill="#dcd6ee"/><text y="3">BV01</text></g>
<g transform="translate(622 55)"><rect x="-13" y="-9" width="26" height="18" fill="#c4c4e6"/><text y="3">BV02</text></g>
<g transform="translate(592 70)"><rect x="-13" y="-9" width="26" height="18" fill="#d8d4ec"/><text y="3">BV11</text></g>
<g transform="translate(682 67)"><rect x="-13" y="-9" width="26" height="18" fill="#7a9ad8"/><text y="3" class="w">BV04</text></g>
<g transform="translate(648 78)"><rect x="-13" y="-9" width="26" height="18" fill="#8a8cd0"/><text y="3" class="w">BV13</text></g>
<g transform="translate(562 85)"><rect x="-13" y="-9" width="26" height="18" fill="#d8d4ec"/><text y="3">BV20</text></g>
<g transform="translate(643 95)"><rect x="-13" y="-9" width="26" height="18" fill="#b0acd0"/><text y="3">BV23</text></g>
<g transform="translate(590 105)"><rect x="-13" y="-9" width="26" height="18" fill="#e2e0ee"/><text y="3">BV31</text></g>
<g transform="translate(697 108)"><rect x="-13" y="-9" width="26" height="18" fill="#8a80b0"/><text y="3" class="w">BV25</text></g>
<g transform="translate(665 117)"><rect x="-13" y="-9" width="26" height="18" fill="#7070a0"/><text y="3" class="w">BV34</text></g>
<g transform="translate(755 110)"><rect x="-13" y="-9" width="26" height="18" fill="#6a88c8"/><text y="3" class="w">BV17</text></g>
<g transform="translate(792 107)"><rect x="-13" y="-9" width="26" height="18" fill="#b078c0"/><text y="3" class="w">BV08</text></g>
<g transform="translate(795 150)"><rect x="-13" y="-9" width="26" height="18" fill="#2a3a50"/><text y="3" class="w">BV29</text></g>
<!-- E -->
<g transform="translate(555 538)"><rect x="-10" y="-12" width="20" height="24" fill="#c0682a"/><text y="3" class="w s">E99</text></g>
<g transform="translate(555 563)"><rect x="-10" y="-12" width="20" height="24" fill="#6a5a50"/><text y="3" class="w s">E89</text></g>
<g transform="translate(555 588)"><rect x="-10" y="-12" width="20" height="24" fill="#5a3a28"/><text y="3" class="w s">E79</text></g>
<g transform="translate(558 612)"><rect x="-12" y="-9" width="24" height="18" fill="#a08878"/><text y="3" class="w">E59</text></g>
<g transform="translate(560 632)"><rect x="-12" y="-9" width="24" height="18" fill="#7a5a42"/><text y="3" class="w">E49</text></g>
<g transform="translate(562 650)"><rect x="-12" y="-9" width="24" height="18" fill="#e08830"/><text y="3" class="w">E39</text></g>
<g transform="translate(562 667)"><rect x="-12" y="-9" width="24" height="18" fill="#8a3a20"/><text y="3" class="w">E29</text></g>
<g transform="translate(565 683)"><rect x="-12" y="-9" width="24" height="18" fill="#d04820"/><text y="3" class="w">E19</text></g>
<g transform="translate(565 698)"><rect x="-12" y="-9" width="26" height="18" fill="#e86848"/><text y="3" class="w">E09</text></g>
<g transform="translate(600 695)"><rect x="-16" y="-9" width="32" height="18" fill="#e07050"/><text y="3" class="w">E08</text></g>
<g transform="translate(633 688)"><rect x="-15" y="-9" width="30" height="18" fill="#d88060"/><text y="3" class="w">E07</text></g>
<g transform="translate(578 538)"><rect x="-9" y="-12" width="18" height="24" fill="#f09850"/><text y="3" class="s">E97</text></g>
<g transform="translate(587 560)"><rect x="-9" y="-12" width="18" height="24" fill="#b08868"/><text y="3" class="w s">E87</text></g>
<g transform="translate(595 585)"><rect x="-10" y="-12" width="20" height="24" fill="#a07850"/><text y="3" class="w s">E77</text></g>
<g transform="translate(603 605)"><rect x="-12" y="-9" width="24" height="18" fill="#b89060"/><text y="3" class="w">E57</text></g>
<g transform="translate(608 623)"><rect x="-12" y="-9" width="24" height="18" fill="#8a6a50"/><text y="3" class="w">E47</text></g>
<g transform="translate(617 642)"><rect x="-12" y="-9" width="24" height="18" fill="#d09848"/><text y="3" class="w">E37</text></g>
<g transform="translate(622 657)"><rect x="-12" y="-9" width="24" height="18" fill="#9a6850"/><text y="3" class="w">E27</text></g>
<g transform="translate(598 528)"><rect x="-9" y="-10" width="18" height="20" fill="#f4b878"/><text y="3" class="s">E95</text></g>
<g transform="translate(615 515)"><rect x="-9" y="-9" width="18" height="18" fill="#f8d0b0"/><text y="3" class="s">E93</text></g>
<g transform="translate(625 542)"><rect x="-12" y="-9" width="24" height="18" fill="#a89058"/><text y="3" class="w">E84</text></g>
<g transform="translate(643 560)"><rect x="-12" y="-9" width="24" height="18" fill="#a08070"/><text y="3">E74</text></g>
<g transform="translate(655 512)"><rect x="-12" y="-9" width="24" height="18" fill="#e0d0a0"/><text y="3">E81</text></g>
<g transform="translate(678 523)"><rect x="-12" y="-9" width="24" height="18" fill="#ece0d8"/><text y="3">E71</text></g>
<g transform="translate(710 517)"><rect x="-12" y="-9" width="24" height="18" fill="#f8ece0"/><text y="3">E50</text></g>
<g transform="translate(730 523)"><rect x="-12" y="-9" width="24" height="18" fill="#f4e4d4"/><text y="3">E40</text></g>
<g transform="translate(700 533)"><rect x="-12" y="-9" width="24" height="18" fill="#fce8d4"/><text y="3">E51</text></g>
<g transform="translate(720 542)"><rect x="-12" y="-9" width="24" height="18" fill="#fce8d8"/><text y="3">E41</text></g>
<g transform="translate(740 552)"><rect x="-12" y="-9" width="24" height="18" fill="#f8dcc0"/><text y="3">E31</text></g>
<g transform="translate(757 560)"><rect x="-12" y="-9" width="24" height="18" fill="#fcd8c0"/><text y="3">E21</text></g>
<g transform="translate(775 568)"><rect x="-12" y="-9" width="24" height="18" fill="#fde0d0"/><text y="3">E11</text></g>
<g transform="translate(790 575)"><rect x="-12" y="-9" width="24" height="18" fill="#fce4dc"/><text y="3">E01</text></g>
<g transform="translate(803 550)"><rect x="-12" y="-9" width="24" height="18" fill="#fdeee0"/><text y="3">E00</text></g>
<g transform="translate(827 548)"><rect x="-12" y="-9" width="24" height="18" fill="#fef6f0"/><text y="3" class="s">E0000</text></g>
<g transform="translate(818 562)"><rect x="-12" y="-9" width="24" height="18" fill="#fef6ee"/><text y="3" class="s">E000</text></g>
<g transform="translate(772 600)"><rect x="-12" y="-9" width="24" height="18" fill="#fde0d8"/><text y="3">E02</text></g>
<g transform="translate(675 565)"><rect x="-12" y="-9" width="24" height="18" fill="#f4e0b0"/><text y="3">E53</text></g>
<g transform="translate(692 578)"><rect x="-12" y="-9" width="24" height="18" fill="#e8d4b8"/><text y="3">E43</text></g>
<g transform="translate(708 590)"><rect x="-12" y="-9" width="24" height="18" fill="#f0d0b0"/><text y="3">E33</text></g>
<g transform="translate(722 602)"><rect x="-12" y="-9" width="24" height="18" fill="#c07848"/><text y="3" class="w">E23</text></g>
<g transform="translate(737 613)"><rect x="-12" y="-9" width="24" height="18" fill="#e8b898"/><text y="3">E13</text></g>
<g transform="translate(640 588)"><rect x="-12" y="-9" width="24" height="18" fill="#f4e4c0"/><text y="3">E55</text></g>
<g transform="translate(673 592)"><rect x="-12" y="-9" width="24" height="18" fill="#c0b4a0"/><text y="3">E44</text></g>
<g transform="translate(687 607)"><rect x="-12" y="-9" width="24" height="18" fill="#e4b88c"/><text y="3">E34</text></g>
<g transform="translate(665 620)"><rect x="-12" y="-9" width="24" height="18" fill="#e8c8a8"/><text y="3">E35</text></g>
<g transform="translate(677 635)"><rect x="-12" y="-9" width="24" height="18" fill="#d8a880"/><text y="3">E25</text></g>
<g transform="translate(687 648)"><rect x="-12" y="-9" width="24" height="18" fill="#f8c098"/><text y="3">E15</text></g>
<g transform="translate(723 645)"><rect x="-12" y="-9" width="24" height="18" fill="#e4b8c8"/><text y="3">E04</text></g>
</g>

<!-- headings -->
<text class="h" transform="translate(382 52) rotate(-16)">B (Blue)</text>
<text class="h" transform="translate(680 50) rotate(15)">BV (Blue Violet)</text>
<text class="h" transform="translate(935 200) rotate(60)">V (Violet)</text>
<text class="h" transform="translate(1043 455) rotate(90)">RV (Red Violet)</text>
<text class="h" transform="translate(1008 720) rotate(-55)">R (Red)</text>
<text class="h" transform="translate(687 870) rotate(-15)">YR (Yellow Red)</text>
<text class="h" transform="translate(388 867) rotate(17)">Y (Yellow)</text>
<text class="h" transform="translate(138 695) rotate(58)">YG (Yellow Green)</text>
<text class="h" transform="translate(55 490) rotate(-90)">G (Green)</text>
<text class="h" transform="translate(148 195) rotate(-55)">BG (Blue Green)</text>
<text class="h" transform="translate(550 218)">N (Neutral Gray)</text>
<text class="h" transform="translate(857 410) rotate(90)">C (Cool Gray)</text>
<text class="h" transform="translate(263 375) rotate(-78)">T (Toner Gray)</text>
<text class="h" transform="translate(368 656) rotate(33)">W (Warm Gray)</text>
<text class="h" transform="translate(722 670) rotate(-40)">E (Earth)</text>

<!-- fluorescent legend -->
<g class="lg">
<rect x="870" y="823" width="42" height="19" fill="#f0a0c8"/><text x="891" y="836">FRV1</text>
<rect x="912" y="823" width="41" height="19" fill="#f8c898"/><text x="932" y="836">FYR1</text>
<rect x="953" y="823" width="42" height="19" fill="#f8f08c"/><text x="974" y="836">FY1</text>
<rect x="995" y="823" width="41" height="19" fill="#d0e098"/><text x="1015" y="836">FYG1</text>
<rect x="870" y="842" width="42" height="19" fill="#8070c0"/><text x="891" y="855">FV2</text>
<rect x="912" y="842" width="41" height="19" fill="#88c030"/><text x="932" y="855">FYG2</text>
<rect x="953" y="842" width="42" height="19" fill="#70c8e8"/><text x="974" y="855">FBG2</text>
<rect x="995" y="842" width="41" height="19" fill="#1888d0"/><text x="1015" y="855">FB2</text>
</g>
<text x="953" y="884" style="font:bold 18px 'Liberation Sans',sans-serif;text-anchor:middle;fill:#111">F(Fluorescent)</text>
</svg>
<script>
(function(){
 var gs=document.querySelectorAll('#cells > g');
 for(var i=0;i<gs.length;i++){
  var g=gs[i],m=/translate\(([-\d.]+) ([-\d.]+)\)/.exec(g.getAttribute('transform'));
  if(!m)continue;
  var u=(+m[1]-553)/508,v=(+m[2]-462)/440,t=Math.atan2(v,u);
  var a=Math.atan2(440*Math.cos(t),-508*Math.sin(t))*180/Math.PI;
  if(a>90)a-=180;if(a<-90)a+=180;
  g.querySelector('rect').setAttribute('transform','rotate('+a.toFixed(1)+')');
 }
})();
</script>
</body></html>
